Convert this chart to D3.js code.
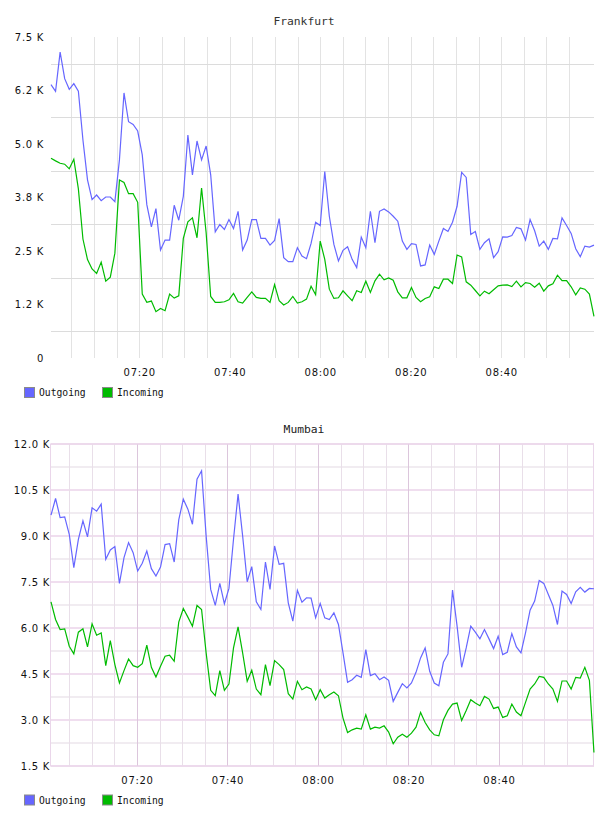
<!DOCTYPE html>
<html lang="en">
<head>
<meta charset="UTF-8">
<title>Traffic per site</title>
<script src="https://d3js.org/d3.v7.min.js"></script>
<style>
  body { margin: 0; background: #fff; }
  .title { font-family: "DejaVu Sans Mono", monospace; font-size: 11.3px; text-anchor: middle; }
  .axis text { font-family: "DejaVu Sans", sans-serif; font-size: 10px; letter-spacing: 0.7px; fill: #111; }
  .axis path { display: none; }
  .legend { font-family: "DejaVu Sans Mono", monospace; font-size: 9.7px; fill: #111; }
  .line { fill: none; stroke-width: 1.2; }
</style>
</head>
<body>
<div id="chart"></div>
<script>
// one sample per ~minute, 120 samples per chart
const sampleSeconds = 60.5;
const seriesNames = ["Outgoing", "Incoming"];
const seriesColors = ["#6666ff", "#00bb00"];

const frankfurtStart = new Date(2024, 0, 1, 7, 0, 30);
const frankfurtYTicks = [0, 1250, 2500, 3750, 5000, 6250, 7500];
const frankfurtYLabels = ["0", "1.2 K", "2.5 K", "3.8 K", "5.0 K", "6.2 K", "7.5 K"];
const frankfurtOutgoing = [
  6387, 6232, 7146, 6526, 6279, 6410, 6232, 5094, 4164, 3700,
  3808, 3676, 3762, 3762, 3653, 4629, 6193, 5520, 5458, 5303,
  4745, 3583, 3064, 3490, 2522, 2755, 2755, 3568, 3219, 3777,
  5210, 4280, 5070, 4629, 4954, 4280, 2948, 3119, 3002, 3235,
  3026, 3428, 2522, 2755, 3235, 3235, 2793, 2793, 2638, 2747,
  3258, 2344, 2251, 2251, 2577, 2383, 2321, 2677, 3173, 3095,
  4358, 3312, 2654, 2267, 2515, 2600, 2305, 2112, 2824, 2577,
  3428, 2693, 3428, 3483, 3413, 3312, 3196, 2731, 2538, 2670,
  2654, 2151, 2174, 2638, 2422, 2731, 3026, 2956, 3173, 3545,
  4335, 4218, 2886, 2956, 2538, 2693, 2786, 2344, 2484, 2832,
  2824, 2863, 3049, 3018, 2755, 3235, 2972, 2615, 2731, 2538,
  2793, 2786, 3274, 3095, 2910, 2553, 2367, 2615, 2592, 2638
];
const frankfurtIncoming = [
  4668, 4606, 4551, 4528, 4420, 4644, 3950, 2780, 2300, 2080,
  1975, 2240, 1795, 1890, 2450, 4160, 4102, 3839, 3839, 3638,
  1492, 1299, 1330, 1082, 1159, 1105, 1492, 1399, 1453, 2793,
  3181, 3274, 2809, 3971, 2925, 1438, 1299, 1299, 1314, 1361,
  1508, 1314, 1283, 1415, 1546, 1415, 1392, 1392, 1299, 1717,
  1337, 1237, 1299, 1438, 1283, 1314, 1376, 1678, 1477, 2731,
  2305, 1608, 1392, 1407, 1570, 1453, 1337, 1570, 1531, 1794,
  1531, 1802, 1957, 1825, 1872, 1818, 1546, 1407, 1407, 1647,
  1415, 1314, 1392, 1430, 1663, 1624, 1841, 1841, 1740, 2406,
  2360, 1779, 1701, 1577, 1453, 1562, 1500, 1593, 1686, 1701,
  1709, 1670, 1794, 1663, 1763, 1740, 1655, 1748, 1562, 1686,
  1732, 1934, 1810, 1810, 1663, 1477, 1639, 1608, 1492, 973
];

const mumbaiStart = new Date(2024, 0, 1, 7, 1, 0);
const mumbaiYTicks = [1500, 3000, 4500, 6000, 7500, 9000, 10500, 12000];
const mumbaiYLabels = ["1.5 K", "3.0 K", "4.5 K", "6.0 K", "7.5 K", "9.0 K", "10.5 K", "12.0 K"];
const mumbaiOutgoing = [
  9678, 10223, 9602, 9624, 9057, 7967, 8893, 9493, 8970, 9918,
  9809, 10038, 8239, 8545, 8654, 7455, 8294, 8784, 8457, 7858,
  8109, 8512, 7934, 7694, 7989, 8719, 8752, 8152, 9526, 10201,
  9874, 9384, 10855, 11128, 9003, 7258, 6735, 7455, 6790, 7291,
  8893, 10365, 9003, 7509, 8000, 6855, 6604, 8152, 7258, 8675,
  8076, 8109, 6822, 6223, 7226, 6844, 6986, 6975, 6332, 6801,
  6332, 6277, 6495, 6114, 5187, 4228, 4315, 4457, 4392, 5296,
  4446, 4512, 4315, 4403, 4294, 3607, 3901, 4185, 4043, 4206,
  4555, 5024, 5351, 4588, 4206, 4119, 4882, 5155, 7237, 6059,
  4719, 5351, 6059, 5863, 5645, 5950, 5645, 5329, 5732, 5133,
  5209, 5820, 5384, 5187, 5841, 6583, 6877, 7553, 7455, 7095,
  6735, 6114, 7204, 7095, 6801, 7182, 7324, 7171, 7291, 7280
];
const mumbaiIncoming = [
  6855, 6277, 5950, 5972, 5405, 5155, 5863, 5972, 5384, 6136,
  5765, 5841, 4773, 5591, 4806, 4206, 4610, 4991, 4773, 4719,
  4839, 5438, 4719, 4403, 4751, 5078, 5111, 4915, 6190, 6637,
  6354, 6059, 6735, 6604, 5187, 3967, 3792, 4610, 3967, 4174,
  5351, 6038, 5187, 4261, 4621, 4010, 3825, 4806, 4119, 4937,
  4806, 4642, 3858, 3683, 4261, 3988, 4076, 4010, 3661, 3988,
  3716, 3825, 3912, 3792, 3062, 2593, 2680, 2735, 2702, 3171,
  2702, 2768, 2735, 2811, 2604, 2223, 2441, 2539, 2441, 2571,
  2768, 3247, 2920, 2680, 2517, 2484, 3007, 3313, 3520, 3552,
  2986, 3313, 3661, 3552, 3465, 3770, 3683, 3378, 3422, 3084,
  3138, 3520, 3258, 3138, 3574, 4010, 4174, 4424, 4392, 4174,
  4010, 3607, 4272, 4272, 4010, 4392, 4370, 4719, 4294, 1939
];

const width = 608, height = 816;
const left = 51, right = 594;

const svg = d3.select("#chart").append("svg")
  .attr("width", width)
  .attr("height", height);

const charts = [
  {
    title: "Frankfurt", titleColor: "#333", start: frankfurtStart,
    top: 37, bottom: 358, yTicks: frankfurtYTicks, yLabels: frankfurtYLabels,
    series: [frankfurtOutgoing, frankfurtIncoming],
    titleY: 25, xLabelY: 377, legendY: 387.5, labelPad: 7, theme: "grey"
  },
  {
    title: "Mumbai", titleColor: "#222", start: mumbaiStart,
    top: 444, bottom: 766, yTicks: mumbaiYTicks, yLabels: mumbaiYLabels,
    series: [mumbaiOutgoing, mumbaiIncoming],
    titleY: 433, xLabelY: 785, legendY: 795, labelPad: 1, theme: "pink"
  }
];

charts.forEach(c => {
  const g = svg.append("g");
  const end = new Date(+c.start + 120 * 60 * 1000);
  // keep ticks away from the window edges
  const inner = t => +t - +c.start > 3 * 60000 && +end - +t > 3 * 60000;

  const x = d3.scaleTime().domain([c.start, end]).range([left, right]);
  const y = d3.scaleLinear()
    .domain([c.yTicks[0], c.yTicks[c.yTicks.length - 1]])
    .range([c.bottom, c.top]);

  const mids = d3.pairs(c.yTicks).map(([a, b]) => (a + b) / 2);
  const fiveMin = x.ticks(d3.timeMinute.every(5)).filter(inner);
  const twentyMin = x.ticks(d3.timeMinute.every(20)).filter(t => +t - +c.start > 10 * 60000 && +end - +t > 10 * 60000);

  // grid
  if (c.theme === "grey") {
    g.selectAll(".vgrid").data(fiveMin).enter().append("line")
      .attr("x1", d => Math.round(x(d)) + 0.5).attr("x2", d => Math.round(x(d)) + 0.5)
      .attr("y1", c.top).attr("y2", c.bottom)
      .attr("stroke", "#e3e3e3");
    g.selectAll(".hgrid").data(mids).enter().append("line")
      .attr("x1", left).attr("x2", right)
      .attr("y1", d => Math.round(y(d)) + 0.5).attr("y2", d => Math.round(y(d)) + 0.5)
      .attr("stroke", "#dcdcdc");
  } else {
    g.selectAll(".hminor").data(mids).enter().append("line")
      .attr("x1", left).attr("x2", right)
      .attr("y1", d => y(d)).attr("y2", d => y(d))
      .attr("stroke", "#f1ecf1").attr("stroke-width", 2);
    g.selectAll(".hmajor").data(c.yTicks).enter().append("line")
      .attr("x1", left).attr("x2", right)
      .attr("y1", d => y(d)).attr("y2", d => y(d))
      .attr("stroke", "#f0deef").attr("stroke-width", 2);
    g.selectAll(".vgrid").data(fiveMin).enter().append("line")
      .attr("x1", d => Math.round(x(d)) + 0.5).attr("x2", d => Math.round(x(d)) + 0.5)
      .attr("y1", c.top).attr("y2", c.bottom)
      .attr("stroke", d => d.getMinutes() % 20 === 0 ? "#dcc6dc" : "#e9dfe9");
    g.append("rect")
      .attr("x", left - 0.5).attr("y", c.top)
      .attr("width", right - left).attr("height", c.bottom - c.top)
      .attr("fill", "none").attr("stroke", "#ead6ea");
  }

  // axes
  g.append("g")
    .attr("class", "axis")
    .attr("transform", `translate(${left},0)`)
    .call(d3.axisLeft(y).tickValues(c.yTicks)
      .tickFormat((d, i) => c.yLabels[i])
      .tickSize(0).tickPadding(c.labelPad));

  g.append("g")
    .attr("class", "axis")
    .attr("transform", `translate(0,${c.xLabelY - 11})`)
    .call(d3.axisBottom(x).tickValues(twentyMin)
      .tickFormat(d3.timeFormat("%H:%M"))
      .tickSize(0).tickPadding(3));

  // lines
  const line = d3.line()
    .x((v, i) => x(new Date(+c.start + i * sampleSeconds * 1000)))
    .y(v => y(v));

  c.series.forEach((s, k) => {
    g.append("path")
      .datum(s)
      .attr("class", "line")
      .attr("stroke", seriesColors[k])
      .attr("d", line);
  });

  // title
  g.append("text")
    .attr("class", "title")
    .attr("x", width / 2)
    .attr("y", c.titleY)
    .attr("fill", c.titleColor)
    .text(c.title);

  // legend
  const lx = [24.5, 102.5];
  seriesNames.forEach((name, k) => {
    g.append("rect")
      .attr("x", lx[k]).attr("y", c.legendY)
      .attr("width", 10).attr("height", 10)
      .attr("fill", seriesColors[k])
      .attr("stroke", "#8a8a8a");
    g.append("text")
      .attr("class", "legend")
      .attr("x", lx[k] + 14.5)
      .attr("y", c.legendY + 8.5)
      .text(name);
  });
});
</script>
</body>
</html>
